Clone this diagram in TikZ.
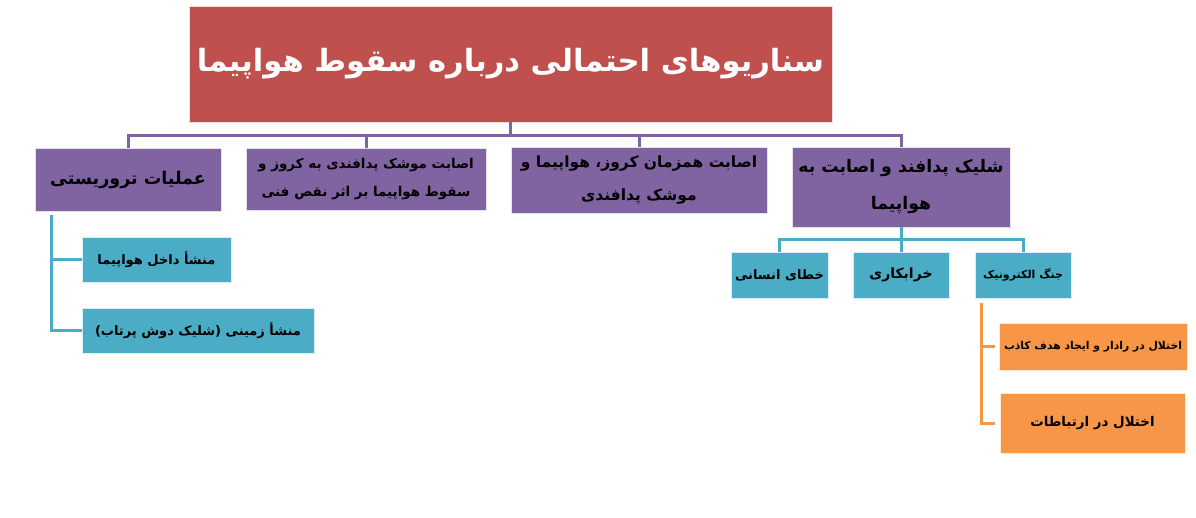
\documentclass[tikz,border=0pt]{standalone}
\usepackage{fontspec}
\newfontfamily\arabicfont[Script=Arabic]{DejaVu Sans}
\TeXXeTstate=1
\definecolor{titlered}{HTML}{C0504D}
\definecolor{mainpurple}{HTML}{8064A2}
\definecolor{subcyan}{HTML}{4BACC6}
\definecolor{leaforange}{HTML}{F79646}
\newcommand{\fa}[1]{\beginR #1\endR}
\newcommand{\fasize}[2]{\arabicfont\bfseries\fontsize{#1}{#2}\selectfont}
\begin{document}
\begin{tikzpicture}[x=1pt, y=-1pt,
    every node/.append style={inner sep=0pt, align=center},
    titlebox/.style={fill=titlered, draw=white!80!titlered, line width=0.8pt, text=white},
    mainbox/.style={fill=mainpurple, draw=white!80!mainpurple, line width=0.8pt},
    subbox/.style={fill=subcyan, draw=white!80!subcyan, line width=0.8pt},
    leafbox/.style={fill=leaforange, draw=white!80!leaforange, line width=0.8pt},
    busline/.style={draw=mainpurple, line width=3pt},
    subline/.style={draw=subcyan, line width=3pt},
    leafline/.style={draw=leaforange, line width=3pt}]
    \useasboundingbox (0,0) rectangle (1196,517);

    % title
    \node[titlebox, minimum width=643, minimum height=116, font=\fasize{30.6}{38}]
        (title_name) at (510.5,64) {\fa{سناریوهای احتمالی درباره سقوط هواپیما}};

    % main scenarios
    \node[mainbox, minimum width=186, minimum height=63, font=\fasize{17.5}{22}]
        (terror_name) at (128,179.5) {\fa{عملیات تروریستی}};
    \node[mainbox, minimum width=240, minimum height=62, font=\fasize{13.5}{28}]
        (missile_name) at (366,179)
        {\fa{اصابت موشک پدافندی به کروز و}\\ \fa{سقوط هواپیما بر اثر نقص فنی}};
    \node[mainbox, minimum width=256, minimum height=66, font=\fasize{15.5}{33}]
        (joint_name) at (639,180)
        {\fa{اصابت همزمان کروز، هواپیما و}\\ \fa{موشک پدافندی}};
    \node[mainbox, minimum width=218, minimum height=80, font=\fasize{17.3}{37}]
        (shoot_name) at (901,187)
        {\fa{شلیک پدافند و اصابت به}\\ \fa{هواپیما}};

    % causes of terror
    \node[subbox, minimum width=149, minimum height=45, font=\fasize{13}{16}]
        (inside_name) at (156.5,259.5) {\fa{منشأ داخل هواپیما}};
    \node[subbox, minimum width=232, minimum height=45, font=\fasize{13}{16}]
        (ground_name) at (198,330.5) {\fa{منشأ زمینی (شلیک دوش پرتاب)}};

    % causes of shooting
    \node[subbox, minimum width=97, minimum height=46, font=\fasize{13}{16}]
        (human_name) at (779.5,275) {\fa{خطای انسانی}};
    \node[subbox, minimum width=96, minimum height=46, font=\fasize{14}{16}]
        (sabotage_name) at (901,275) {\fa{خرابکاری}};
    \node[subbox, minimum width=96, minimum height=46, font=\fasize{11}{14}]
        (ewar_name) at (1023,275) {\fa{جنگ الکترونیک}};

    % electronic warfare
    \node[leafbox, minimum width=188, minimum height=47, font=\fasize{10.8}{13}]
        (radar_name) at (1093,346.5) {\fa{اختلال در رادار و ایجاد هدف کاذب}};
    \node[leafbox, minimum width=185, minimum height=60, font=\fasize{13.4}{16}]
        (comm_name) at (1092.5,423) {\fa{اختلال در ارتباطات}};

    \path[busline]
        (title_name.south) -- ++(0,13) -| (terror_name.north)
        (title_name.south) -- ++(0,13) -| (missile_name.north)
        (title_name.south) -- ++(0,13) -| (joint_name.north)
        (title_name.south) -- ++(0,13) -| (shoot_name.north);
    \path[subline]
        (shoot_name.south) -- ++(0,12) -| (human_name.north)
        (shoot_name.south) -- ++(0,12) -| (sabotage_name.north)
        (shoot_name.south) -- ++(0,12) -| (ewar_name.north)
        (terror_name.south west) ++(17,4) |- (inside_name.west)
        (terror_name.south west) ++(17,4) |- (ground_name.west);
    \path[leafline]
        (ewar_name.south west) ++(7,5) |- ([xshift=-4pt]radar_name.west)
        (ewar_name.south west) ++(7,5) |- ([xshift=-5pt]comm_name.west);
\end{tikzpicture}
\end{document}
